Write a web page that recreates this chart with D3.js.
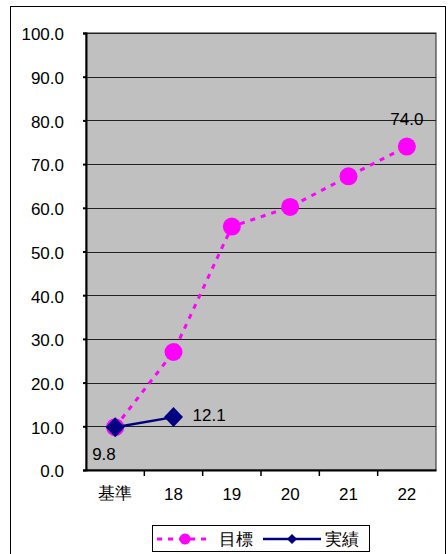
<!DOCTYPE html>
<html><head><meta charset="utf-8">
<script src="https://cdn.jsdelivr.net/npm/d3@7"></script>
<style>body{margin:0;background:#fff}svg{display:block}text{font-family:"Liberation Sans",Arial,sans-serif}</style>
</head><body>
<script>
const categories = ["基準","18","19","20","21","22"];
const targetValues = [9.8, 27.0, 55.7, 60.2, 67.2, 74.0];
const actualValues = [9.8, 12.1];
const yTicks = [0,10,20,30,40,50,60,70,80,90,100];
const seriesNames = ["目標","実績"];

const W=448,H=554;
const svg=d3.select("body").append("svg").attr("width",W).attr("height",H);
svg.append("rect").attr("x",10.5).attr("y",6.5).attr("width",435).attr("height",560).attr("fill","#fff").attr("stroke","#000");

const m={l:86,r:436,t:33,b:470};
const x=d3.scaleBand().domain(categories).range([m.l,m.r]);
const y=d3.scaleLinear().domain([0,100]).range([m.b,m.t]);
const cx=d=>x(d)+x.bandwidth()/2;

svg.append("rect").attr("x",m.l).attr("y",m.t).attr("width",m.r-m.l).attr("height",m.b-m.t).attr("fill","#c0c0c0").attr("stroke","#222").attr("stroke-width",1);
svg.append("g").selectAll("line").data(yTicks.slice(1)).join("line")
 .attr("x1",m.l).attr("x2",m.r).attr("y1",d=>Math.round(y(d))+0.5).attr("y2",d=>Math.round(y(d))+0.5).attr("stroke","#222");

const fs=17;
const ya=svg.append("g").attr("transform",`translate(${m.l},0)`)
 .call(d3.axisLeft(y).tickValues(yTicks).tickFormat(d3.format(".1f")).tickSize(3).tickPadding(19));
ya.select(".domain").attr("stroke","#000").attr("stroke-width",2);
ya.selectAll("text").attr("font-size",fs).attr("fill","#000").attr("dy","0.4em").attr("textLength",null);
ya.selectAll(".tick line").attr("stroke-width",2);

const xa=svg.append("g").attr("transform",`translate(0,${m.b})`)
 .call(d3.axisBottom(x).tickSize(0).tickPadding(18));
xa.select(".domain").attr("stroke","#000").attr("stroke-width",2);
xa.selectAll("text").attr("font-size",fs).attr("fill","#000");
xa.selectAll("text").filter(d=>d==="基準").attr("font-family","Noto Sans CJK JP").attr("dy","0.65em");
svg.append("g").selectAll("line").data(categories.slice(1)).join("line")
 .attr("x1",d=>x(d)).attr("x2",d=>x(d)).attr("y1",m.b).attr("y2",m.b+6).attr("stroke","#000").attr("stroke-width",1.5);

const line=d3.line().x((d,i)=>cx(categories[i])).y(d=>y(d));
svg.append("path").datum(targetValues).attr("d",line).attr("fill","none").attr("stroke","#ff00ff").attr("stroke-width",3).attr("stroke-dasharray","5,6");
svg.append("g").selectAll("circle").data(targetValues).join("circle")
 .attr("cx",(d,i)=>cx(categories[i])).attr("cy",d=>y(d)).attr("r",9).attr("fill","#ff00ff");
svg.append("path").datum(actualValues).attr("d",line).attr("fill","none").attr("stroke","#000080").attr("stroke-width",2.5);
const diamond=(w,h)=>`M0,${-h}L${w},0L0,${h}L${-w},0Z`;
svg.append("g").selectAll("path").data(actualValues).join("path")
 .attr("transform",(d,i)=>`translate(${cx(categories[i])},${y(d)})`)
 .attr("d",diamond(9.5,10)).attr("fill","#000080");

svg.append("text").attr("x",cx("22")).attr("y",y(targetValues[5])-22).attr("text-anchor","middle").attr("font-size",fs).text(targetValues[5].toFixed(1));
svg.append("text").attr("x",cx("18")+19).attr("y",y(actualValues[1])+4).attr("font-size",fs).text(actualValues[1].toFixed(1));
svg.append("text").attr("x",cx("基準")-23).attr("y",y(actualValues[0])+33).attr("font-size",fs).text(actualValues[0].toFixed(1));

const lg=svg.append("g");
lg.append("rect").attr("x",152.5).attr("y",525.5).attr("width",217).attr("height",26).attr("fill","#fff").attr("stroke","#000");
lg.append("line").attr("x1",157).attr("x2",211).attr("y1",539).attr("y2",539).attr("stroke","#ff00ff").attr("stroke-width",3).attr("stroke-dasharray","5,6");
lg.append("circle").attr("cx",185).attr("cy",539).attr("r",5.5).attr("fill","#ff00ff");
lg.append("text").attr("x",219).attr("y",545).attr("font-size",17).attr("font-family","Noto Sans CJK JP").text(seriesNames[0]);
lg.append("line").attr("x1",263).attr("x2",321).attr("y1",539).attr("y2",539).attr("stroke","#000080").attr("stroke-width",2.5);
lg.append("path").attr("transform","translate(292,539)").attr("d",diamond(5,5)).attr("fill","#000080");
lg.append("text").attr("x",325).attr("y",545).attr("font-size",17).attr("font-family","Noto Sans CJK JP").text(seriesNames[1]);
</script>
</body></html>
